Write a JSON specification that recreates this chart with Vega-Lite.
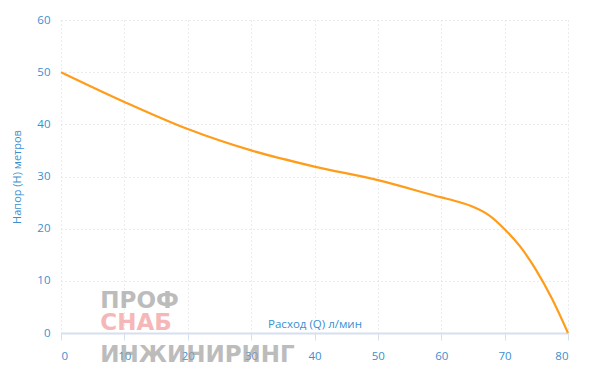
{
  "$schema": "https://vega.github.io/schema/vega-lite/v6.json",
  "width": 507,
  "height": 313,
  "autosize": {"type": "none"},
  "padding": {"left": 61, "top": 20, "right": 32, "bottom": 50},
  "background": "white",
  "config": {
    "view": {"stroke": null},
    "font": "Open Sans",
    "axis": {
      "labelFont": "Open Sans",
      "titleFont": "Open Sans",
      "labelColor": "#3a8fd0",
      "titleColor": "#3a8fd0",
      "labelFontSize": 11.5,
      "titleFontSize": 11,
      "titleFontWeight": "normal",
      "gridColor": "#d9d9d9",
      "gridDash": [1, 3],
      "gridWidth": 1
    }
  },
  "datasets": {
    "curve": [
      {"q": 0, "h": 50},
      {"q": 10, "h": 44.3},
      {"q": 20, "h": 39.1},
      {"q": 30, "h": 35},
      {"q": 40, "h": 31.9},
      {"q": 50, "h": 29.3},
      {"q": 60, "h": 26},
      {"q": 62.5, "h": 25.2},
      {"q": 65, "h": 24.2},
      {"q": 67.5, "h": 22.6},
      {"q": 70, "h": 19.9},
      {"q": 72.5, "h": 16.5},
      {"q": 75, "h": 12},
      {"q": 77.5, "h": 6.5},
      {"q": 80, "h": 0}
    ],
    "logo": [
      {"q": 6.2, "h": 4.8, "t": "ПРОФ", "c": "gray"},
      {"q": 6.2, "h": 0.6, "t": "СНАБ", "c": "red"},
      {"q": 6.2, "h": -5.6, "t": "ИНЖИНИРИНГ", "c": "gray"}
    ]
  },
  "layer": [
    {
      "data": {"name": "logo"},
      "mark": {"type": "text", "align": "left", "baseline": "alphabetic", "font": "DejaVu Sans", "fontSize": 23, "fontWeight": "bold", "opacity": 0.7},
      "encoding": {
        "x": {"field": "q", "type": "quantitative", "scale": {"domain": [0, 80], "nice": false}},
        "y": {"field": "h", "type": "quantitative", "scale": {"domain": [0, 60], "nice": false}},
        "text": {"field": "t"},
        "color": {"field": "c", "type": "nominal", "scale": {"domain": ["gray", "red"], "range": ["#a0a0a0", "#f29a9a"]}, "legend": null}
      }
    },
    {
      "data": {"name": "curve"},
      "mark": {"type": "line", "interpolate": "monotone", "color": "#ff9c1a", "strokeWidth": 2.2},
      "encoding": {
        "x": {
          "field": "q", "type": "quantitative",
          "scale": {"domain": [0, 80], "nice": false},
          "axis": {
            "values": [0, 10, 20, 30, 40, 50, 60, 70, 80],
            "title": "Расход (Q) л/мин",
            "titleY": -6,
            "titleBaseline": "alphabetic",
            "titleFontSize": 11.5,
            "domainColor": "#d6e0f0",
            "domainWidth": 2,
            "tickColor": "#d6e0f0",
            "tickSize": 7,
            "labelPadding": 10
          }
        },
        "y": {
          "field": "h", "type": "quantitative",
          "scale": {"domain": [0, 60], "nice": false},
          "axis": {
            "values": [0, 10, 20, 30, 40, 50, 60],
            "title": "Напор (H) метров",
            "domain": false,
            "ticks": false,
            "labelPadding": 11,
            "titlePadding": 14
          }
        }
      }
    }
  ]
}
